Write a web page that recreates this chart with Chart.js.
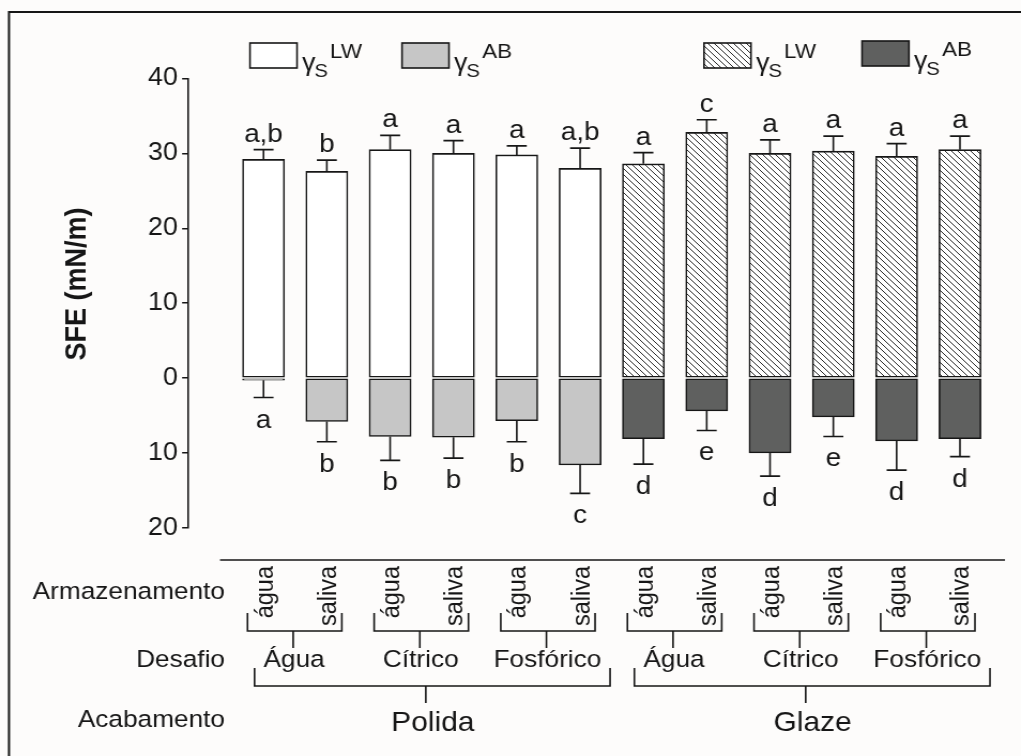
<!DOCTYPE html>
<html>
<head>
<meta charset="utf-8">
<script src="https://cdn.jsdelivr.net/npm/chart.js@4.4.1/dist/chart.umd.min.js"></script>
<style>
  html, body { margin: 0; padding: 0; background: #fdfcfb; overflow: hidden; }
  #wrap { width: 954px; height: 756px; transform: scaleX(1.0702); transform-origin: 0 0; }
</style>
</head>
<body>
<div id="wrap"><canvas id="c" width="954" height="756"></canvas></div>
<script>
// Grouping levels of the x axis (outer to inner)
const acabamentos = ['Polida', 'Glaze'];
const desafios = ['Água', 'Cítrico', 'Fosfórico'];
const armazenamentos = ['água', 'saliva'];

// Dispersive component γS^LW (mean and SD), mN/m
const lwMean = [29.2, 27.6, 30.5, 30.0, 29.8, 28.0, 28.6, 32.8, 30.0, 30.3, 29.6, 30.5];
const lwSD   = [1.3, 1.5, 1.9, 1.7, 1.2, 2.7, 1.5, 1.7, 1.8, 2.0, 1.7, 1.8];
// Acid-base component γS^AB (mean and SD), mN/m, drawn below zero
const abMean = [0.3, 5.8, 7.8, 7.9, 5.7, 11.6, 8.1, 4.4, 10.0, 5.2, 8.4, 8.1];
const abSD   = [2.3, 2.7, 3.2, 2.8, 2.8, 3.8, 3.4, 2.6, 3.1, 2.6, 3.9, 2.4];

// Statistical grouping letters
const lwLetters = ['a,b', 'b', 'a', 'a', 'a', 'a,b', 'a', 'c', 'a', 'a', 'a', 'a'];
const abLetters = ['a', 'b', 'b', 'b', 'b', 'c', 'd', 'e', 'd', 'e', 'd', 'd'];

// Y axis range and step
const yMin = -20, yMax = 40, yStep = 10;

const rowTitles = ['Armazenamento', 'Desafio', 'Acabamento'];

// Flat category list built from the three levels
const cats = [];
acabamentos.forEach((a, ai) => desafios.forEach((d, di) => armazenamentos.forEach((s, si) => {
  cats.push({ acab: ai, desafio: di, arm: si });
})));

const CW = 954;
const SX = 1021 / CW;         // horizontal stretch of the wrapper
const u = x => x / SX;        // page x -> canvas x
const FONT = '"Liberation Sans", Arial, Helvetica, sans-serif';
const INK = '#161616';

const ctx0 = document.getElementById('c').getContext('2d');

// diagonal hatch for the glazed LW bars
const hc = document.createElement('canvas');
hc.width = 6; hc.height = 6;
(function () {
  const g = hc.getContext('2d');
  g.fillStyle = '#ffffff'; g.fillRect(0, 0, 6, 6);
  g.strokeStyle = '#2a2a2a'; g.lineWidth = 1;
  g.beginPath();
  g.moveTo(-1, -1); g.lineTo(7, 7);
  g.moveTo(-1, 5); g.lineTo(1, 7);
  g.moveTo(5, -1); g.lineTo(7, 1);
  g.stroke();
})();
const hatchFill = ctx0.createPattern(hc, 'repeat');

const lwColors = cats.map(c => c.acab === 0 ? '#ffffff' : hatchFill);
const abColors = cats.map(c => c.acab === 0 ? '#c6c6c6' : '#5f605f');

const decorations = {
  id: 'decorations',
  afterDatasetsDraw(chart) {
    const { ctx, scales: { x, y } } = chart;
    const cap = u(10);
    ctx.save();
    ctx.strokeStyle = INK;
    ctx.fillStyle = INK;
    ctx.lineWidth = 1.6;
    ctx.font = `26px ${FONT}`;
    ctx.textAlign = 'center';
    ctx.textBaseline = 'alphabetic';
    cats.forEach((c, i) => {
      const px = x.getPixelForValue(i);
      // upper error bar
      const t0 = y.getPixelForValue(lwMean[i]);
      const t1 = y.getPixelForValue(lwMean[i] + lwSD[i]);
      ctx.beginPath();
      ctx.moveTo(px, t0); ctx.lineTo(px, t1);
      ctx.moveTo(px - cap, t1); ctx.lineTo(px + cap, t1);
      ctx.stroke();
      ctx.fillText(lwLetters[i], px, t1 - 8);
      // lower error bar
      const b0 = y.getPixelForValue(-abMean[i]);
      const b1 = y.getPixelForValue(-(abMean[i] + abSD[i]));
      ctx.beginPath();
      ctx.moveTo(px, b0); ctx.lineTo(px, b1);
      ctx.moveTo(px - cap, b1); ctx.lineTo(px + cap, b1);
      ctx.stroke();
      ctx.fillText(abLetters[i], px, b1 + 30);
    });
    ctx.restore();
  },
  afterDraw(chart) {
    const { ctx, scales: { x, y } } = chart;
    ctx.save();
    ctx.fillStyle = INK;
    ctx.strokeStyle = INK;

    // frame
    ctx.lineWidth = 2;
    ctx.beginPath();
    ctx.moveTo(u(9), 756); ctx.lineTo(u(9), 12); ctx.lineTo(chart.width, 12);
    ctx.stroke();

    // y axis title
    ctx.save();
    ctx.translate(u(78), 284);
    ctx.rotate(-Math.PI / 2);
    ctx.font = `bold 27px ${FONT}`;
    ctx.textAlign = 'center';
    ctx.textBaseline = 'middle';
    ctx.fillText('SFE (mN/m)', 0, 0);
    ctx.restore();

    // legend
    const ds = chart.data.datasets;
    const legendItems = [
      { fill: ds[0].backgroundColor[0], sup: 'LW', bx: 250, by: 43 },
      { fill: ds[1].backgroundColor[0], sup: 'AB', bx: 402, by: 43 },
      { fill: ds[0].backgroundColor[11], sup: 'LW', bx: 704, by: 43 },
      { fill: ds[1].backgroundColor[11], sup: 'AB', bx: 862, by: 41 }
    ];
    legendItems.forEach(it => {
      const bx = u(it.bx), bw = u(47), bh = 25;
      ctx.fillStyle = it.fill;
      ctx.fillRect(bx, it.by, bw, bh);
      ctx.lineWidth = 1.6;
      ctx.strokeStyle = INK;
      ctx.strokeRect(bx, it.by, bw, bh);
      ctx.fillStyle = INK;
      ctx.textAlign = 'left';
      ctx.textBaseline = 'alphabetic';
      let tx = bx + bw + u(5);
      ctx.font = `25px ${FONT}`;
      ctx.fillText('γ', tx, it.by + 28);
      tx += ctx.measureText('γ').width - 1;
      ctx.font = `19px ${FONT}`;
      ctx.fillText('S', tx, it.by + 34);
      tx += ctx.measureText('S').width + 2;
      ctx.font = `21px ${FONT}`;
      ctx.fillText(it.sup, tx, it.by + 15);
    });

    // hierarchical category labels
    ctx.strokeStyle = INK;
    ctx.fillStyle = INK;
    ctx.lineWidth = 1.6;
    ctx.beginPath();
    ctx.moveTo(u(220), 560); ctx.lineTo(u(1005), 560);
    ctx.stroke();

    ctx.font = `24.5px ${FONT}`;
    ctx.textAlign = 'right';
    ctx.textBaseline = 'middle';
    ctx.fillText(rowTitles[0], u(225), 592);
    ctx.fillText(rowTitles[1], u(225), 660);
    ctx.fillText(rowTitles[2], u(225), 720);

    const cx = i => x.getPixelForValue(i);

    // storage medium labels (rotated)
    cats.forEach((c, i) => {
      ctx.save();
      ctx.translate(cx(i) + 2, 566);
      ctx.rotate(-Math.PI / 2);
      ctx.font = `23.5px ${FONT}`;
      ctx.textAlign = 'right';
      ctx.textBaseline = 'middle';
      ctx.fillText(armazenamentos[c.arm], 0, 0);
      ctx.restore();
    });

    // challenge brackets and labels
    const nArm = armazenamentos.length;
    for (let g = 0; g < cats.length / nArm; g++) {
      const i0 = g * nArm, i1 = i0 + nArm - 1;
      const l = cx(i0) - u(16), r = cx(i1) + u(15);
      const mid = (cx(i0) + cx(i1)) / 2 - u(2);
      ctx.lineWidth = 1.6;
      ctx.beginPath();
      ctx.moveTo(l, 613); ctx.lineTo(l, 631); ctx.lineTo(r, 631); ctx.lineTo(r, 613);
      ctx.moveTo(mid, 631); ctx.lineTo(mid, 648);
      ctx.stroke();
      ctx.font = `24.5px ${FONT}`;
      ctx.textAlign = 'center';
      ctx.textBaseline = 'middle';
      ctx.fillText(desafios[cats[i0].desafio], mid + u(1), 660);
    }

    // finish brackets and labels
    const perAcab = desafios.length * nArm;
    acabamentos.forEach((name, a) => {
      const i0 = a * perAcab, i1 = i0 + perAcab - 1;
      const l = cx(i0) - u(9), r = cx(i1) + u(30);
      const mid = (cx(i0) + cx(i1)) / 2 + u(4);
      ctx.lineWidth = 1.6;
      ctx.beginPath();
      ctx.moveTo(l, 668); ctx.lineTo(l, 686); ctx.lineTo(r, 686); ctx.lineTo(r, 668);
      ctx.moveTo(mid, 686); ctx.lineTo(mid, 703);
      ctx.stroke();
      ctx.font = `28px ${FONT}`;
      ctx.textAlign = 'center';
      ctx.textBaseline = 'middle';
      ctx.fillText(name, mid + u(7), 723);
    });

    ctx.restore();
  }
};

// x range of the linear index scale, in bar positions
const xRange = { min: (188 - 263.5) / 63.3, max: 11 + (998 - 960) / 63.3 };

new Chart(ctx0, {
  type: 'bar',
  data: {
    datasets: [
      {
        label: 'γS LW',
        data: lwMean.map((v, i) => ({ x: i, y: v })),
        backgroundColor: lwColors,
        borderColor: INK,
        borderWidth: 1.6,
        borderSkipped: false,
        grouped: false,
        barThickness: u(42)
      },
      {
        label: 'γS AB',
        data: abMean.map((v, i) => ({ x: i, y: -v })),
        backgroundColor: abColors,
        borderColor: INK,
        borderWidth: 1.6,
        borderSkipped: false,
        grouped: false,
        barThickness: u(42)
      }
    ]
  },
  options: {
    responsive: false,
    animation: false,
    devicePixelRatio: 1,
    layout: { padding: { top: 78.5, bottom: 228.2, left: 0, right: CW - u(998) } },
    plugins: { legend: { display: false }, tooltip: { enabled: false } },
    scales: {
      x: {
        type: 'linear',
        min: xRange.min,
        max: xRange.max,
        offset: false,
        display: false
      },
      y: {
        min: yMin,
        max: yMax,
        ticks: {
          stepSize: yStep,
          callback: v => Math.abs(v),
          font: { family: FONT, size: 25 },
          color: INK,
          padding: 4
        },
        grid: { drawOnChartArea: false, drawTicks: true, tickLength: 5.5, color: INK, lineWidth: 1.5 },
        border: { display: true, color: INK, width: 1.6 },
        afterFit(scale) { scale.width = u(188); }
      }
    }
  },
  plugins: [decorations]
});
</script>
</body>
</html>
